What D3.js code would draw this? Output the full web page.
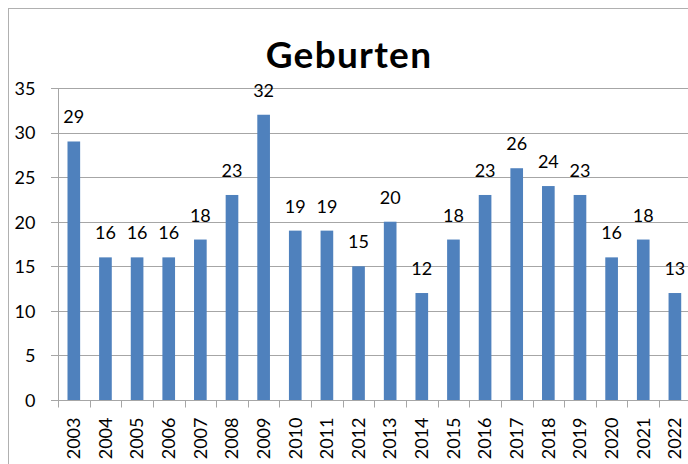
<!DOCTYPE html>
<html><head><meta charset="utf-8">
<script src="https://cdn.jsdelivr.net/npm/d3@7"></script>
<style>html,body{margin:0;padding:0;background:#fff;overflow:hidden}</style>
</head><body>
<svg id="c" width="688" height="464"></svg>
<script>
const years = ["2003","2004","2005","2006","2007","2008","2009","2010","2011","2012","2013","2014","2015","2016","2017","2018","2019","2020","2021","2022"];
const births = [29,16,16,16,18,23,32,19,19,15,20,12,18,23,26,24,23,16,18,12];
const dataLabels = ["29","16","16","16","18","23","32","19","19","15","20","12","18","23","26","24","23","16","18","13"];
const yTicks = [0,5,10,15,20,25,30,35];
const title = "Geburten";

const svg = d3.select("#c");
const font = "Lato, 'Liberation Sans', sans-serif";
const gridColor = "#a6a6a6";

// outer chart border
svg.append("rect").attr("x",8.5).attr("y",8.5).attr("width",700).attr("height",470)
  .attr("fill","none").attr("stroke","#b0b0b0").attr("stroke-width",1);

const x = d3.scaleBand().domain(years).range([58, 690.7]).paddingInner(0.6).paddingOuter(0.3);
const y = d3.scaleLinear().domain([0,35]).range([400, 88]);

// gridlines
svg.append("g").selectAll("line").data(yTicks).join("line")
  .attr("x1",51).attr("x2",700)
  .attr("y1",d=>Math.round(y(d))+0.5).attr("y2",d=>Math.round(y(d))+0.5)
  .attr("stroke",gridColor).attr("stroke-width",1);

// y axis
const yAxis = d3.axisLeft(y).tickValues(yTicks).tickSize(0).tickPadding(0);
const gy = svg.append("g").attr("transform","translate(58.5,0)").call(yAxis);
gy.select(".domain").attr("stroke",gridColor).attr("d","M0,"+y(35)+"V"+(y(0)+7));
gy.selectAll("text").attr("x",-23).attr("dy","0.35em").attr("font-family",font).attr("font-size","18px").attr("fill","#000");

// bars
svg.append("g").selectAll("rect").data(births).join("rect")
  .attr("x",(d,i)=>x(years[i])).attr("width",x.bandwidth())
  .attr("y",d=>y(d)).attr("height",d=>y(0)-y(d))
  .attr("fill","#4f81bd");

// x axis
const xStep = x.step();
const xAxis = d3.axisBottom(x).tickSize(0);
const gx = svg.append("g").attr("transform","translate(0,"+(Math.round(y(0))+0.5)+")").call(xAxis);
gx.select(".domain").attr("stroke",gridColor).attr("d","M51,0H700");
// boundary ticks
gx.append("g").selectAll("line").data(d3.range(years.length+1)).join("line")
  .attr("x1",i=>Math.round(58+i*xStep)+0.5).attr("x2",i=>Math.round(58+i*xStep)+0.5)
  .attr("y1",0).attr("y2",7).attr("stroke",gridColor);
gx.selectAll(".tick text")
  .attr("transform","rotate(-90)")
  .attr("x",-17).attr("y",0).attr("dy","0.35em")
  .attr("text-anchor","end")
  .attr("font-family",font).attr("font-size","18px").attr("fill","#000");

// data labels
svg.append("g").selectAll("text").data(births).join("text")
  .attr("x",(d,i)=>x(years[i])+x.bandwidth()/2)
  .attr("y",d=>y(d)-18)
  .attr("text-anchor","middle")
  .attr("font-family",font).attr("font-size","18px").attr("fill","#000")
  .text((d,i)=>dataLabels[i]);

// title
svg.append("text").attr("x",349).attr("y",68).attr("text-anchor","middle")
  .attr("font-family",font).attr("font-weight","bold").attr("font-size","37px")
  .attr("letter-spacing","1.3px").attr("fill","#000")
  .text(title);
</script>
</body></html>
